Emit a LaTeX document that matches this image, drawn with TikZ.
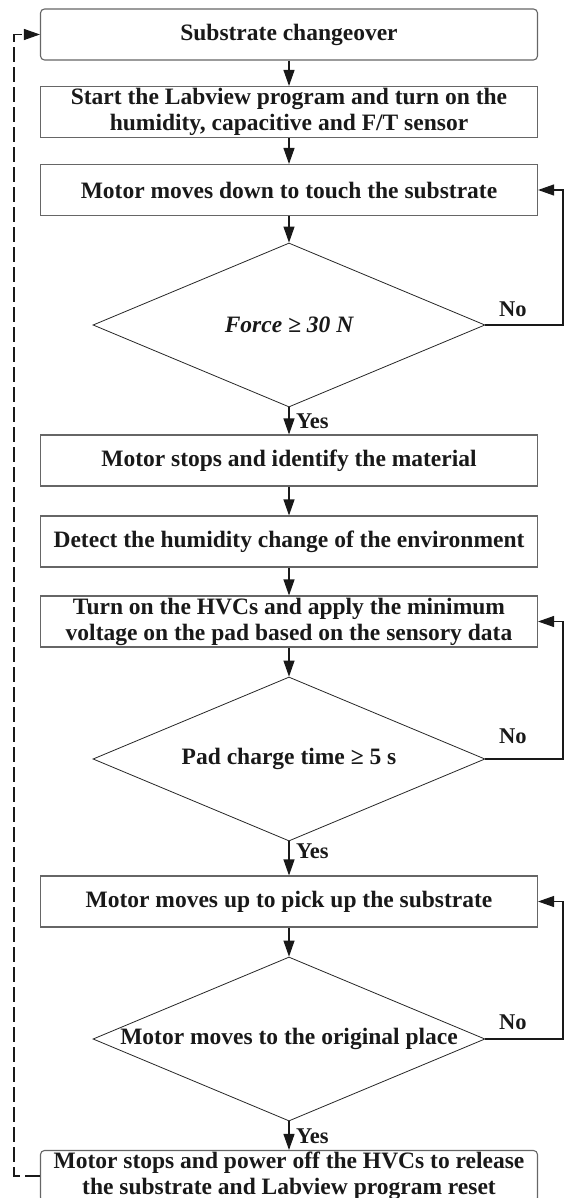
\documentclass[tikz,border=0pt]{standalone}
\usepackage{fontspec}
\setmainfont{Liberation Serif}
\usetikzlibrary{arrows.meta,shapes.geometric,calc}
\begin{document}
\begin{tikzpicture}[x=1pt,y=-1pt,
 box/.style={draw=black!60, line width=1.1pt, minimum width=497pt, minimum height=51pt, inner sep=0pt, align=center, font=\bfseries\fontsize{23.5}{26}\selectfont, text=black!90},
 rbox/.style={box, rounded corners=4pt},
 dia/.style={draw=black!85, line width=0.8pt, diamond, minimum width=392pt, minimum height=164pt, inner sep=0pt},
 dtext/.style={font=\bfseries\fontsize{23.5}{26}\selectfont, inner sep=0pt, text=black!90},
 lab/.style={font=\bfseries\fontsize{22.5}{25}\selectfont, inner sep=0pt, text=black!90},
 arr/.style={line width=1.1pt, draw=black!90, -{Triangle[length=16pt,width=11pt]}},
 dsh/.style={line width=1.1pt, draw=black!90, dash pattern=on 15pt off 5pt, -{Triangle[length=16pt,width=11pt]}}
]
\clip (0,0) rectangle (564,1198);
\node[rbox] (b1) at (289,34.5) {Substrate changeover};
\node[box] (b2) at (289,112) {Start the Labview program and turn on the\\humidity, capacitive and F/T sensor};
\node[box] (b3) at (289,190) {Motor moves down to touch the substrate};
\node[dia] (d1) at (289,325) {};
\node[dtext] (d1t) at (d1.center) {\itshape Force ≥ 30 N};
\node[box] (b4) at (289,460.5) {Motor stops and identify the material};
\node[box] (b5) at (289,541.5) {Detect the humidity change of the environment};
\node[box] (b6) at (289,621.5) {Turn on the HVCs and apply the minimum\\voltage on the pad based on the sensory data};
\node[dia] (d2) at (289,759) {};
\node[dtext] (d2t) at (d2.center) {Pad charge time ≥ 5 s};
\node[box] (b7) at (289,901.5) {Motor moves up to pick up the substrate};
\node[dia] (d3) at (289,1039) {};
\node[dtext] (d3t) at (d3.center) {Motor moves to the original place};
\node[rbox] (b8) at (289,1176) {Motor stops and power off the HVCs to release\\the substrate and Labview program reset};

\coordinate (rl) at (563,0);
\coordinate (dl) at (14,0);

\draw[arr] (b1) -- (b2);
\draw[arr] (b2) -- (b3);
\draw[arr] (b3) -- (d1.north);
\draw[arr] (d1.south) -- (b4);
\draw[arr] (b4) -- (b5);
\draw[arr] (b5) -- (b6);
\draw[arr] (b6) -- (d2.north);
\draw[arr] (d2.south) -- (b7);
\draw[arr] (b7) -- (d3.north);
\draw[arr] (d3.south) -- (b8);

\draw[arr] (d1.east) -- (d1.east -| rl) -- (b3.east -| rl) -- (b3.east);
\draw[arr] (d2.east) -- (d2.east -| rl) -- (b6.east -| rl) -- (b6.east);
\draw[arr] (d3.east) -- (d3.east -| rl) -- (b7.east -| rl) -- (b7.east);
\draw[dsh] (b8.west) -- (b8.west -| dl) -- (b1.west -| dl) -- (b1.west);

\node[lab, anchor=base west] (y1) at (296,428) {Yes};
\node[lab, anchor=base west] (y2) at (296,858) {Yes};
\node[lab, anchor=base west] (y3) at (296,1143) {Yes};
\node[lab, anchor=base west] (n1) at (499,316) {No};
\node[lab, anchor=base west] (n2) at (499,743) {No};
\node[lab, anchor=base west] (n3) at (499,1029) {No};
\end{tikzpicture}
\end{document}
